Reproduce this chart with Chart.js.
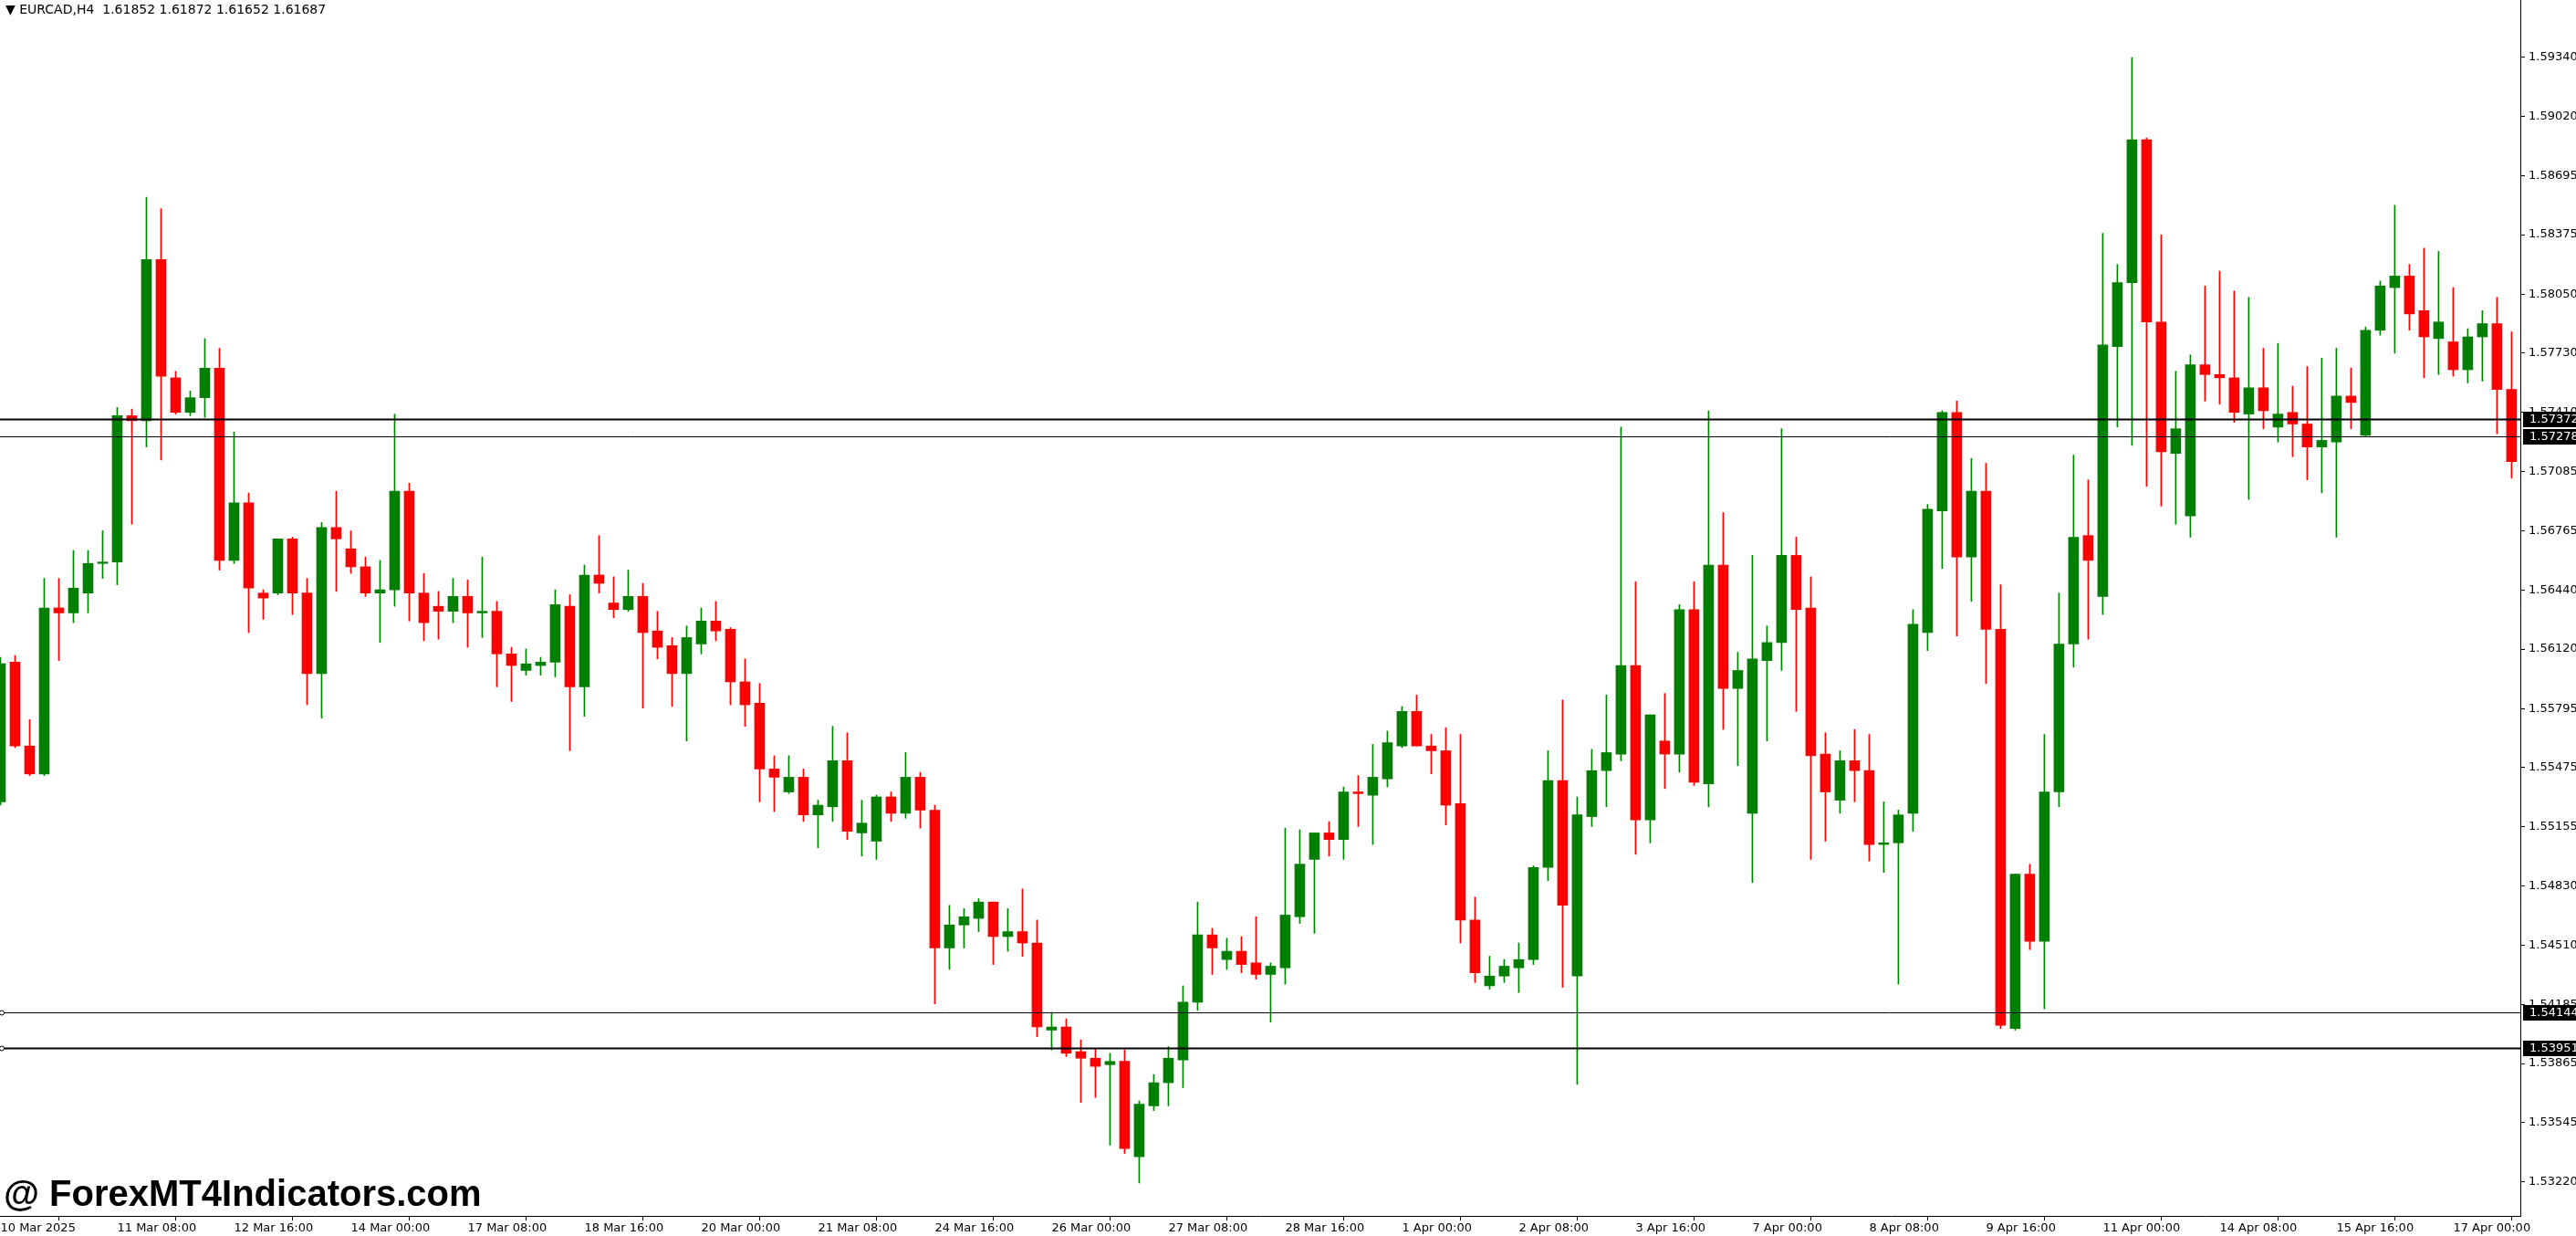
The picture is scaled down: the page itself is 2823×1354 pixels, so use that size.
<!DOCTYPE html>
<html><head><meta charset="utf-8">
<script src="https://cdn.jsdelivr.net/npm/chart.js@4/dist/chart.umd.min.js"></script>
<style>html,body{margin:0;padding:0;background:#fff;overflow:hidden}canvas{display:block}</style>
</head><body>
<canvas id="c" width="2823" height="1354"></canvas>
<script>
const opens=[1.55289,1.56049,1.55593,1.55441,1.56344,1.56317,1.56425,1.56586,1.56594,1.57390,
1.57363,1.58240,1.57596,1.57408,1.57488,1.57649,1.56603,1.56916,1.56425,1.56425,
1.56720,1.56425,1.55987,1.56782,1.56666,1.56568,1.56425,1.56443,1.56979,1.56425,
1.56353,1.56326,1.56407,1.56317,1.56326,1.56094,1.56004,1.56031,1.56049,1.56353,
1.55915,1.56523,1.56371,1.56335,1.56407,1.56219,1.56139,1.55987,1.56148,1.56273,
1.56228,1.55942,1.55826,1.55468,1.55343,1.55423,1.55218,1.55262,1.55513,1.55120,
1.55075,1.55316,1.55227,1.55423,1.55244,1.54494,1.54619,1.54655,1.54744,1.54556,
1.54583,1.54521,1.54047,1.54064,1.53930,1.53894,1.53859,1.53877,1.53358,1.53635,
1.53761,1.53885,1.54199,1.54565,1.54431,1.54476,1.54413,1.54350,1.54386,1.54664,
1.54976,1.55120,1.55084,1.55343,1.55325,1.55414,1.55593,1.55781,1.55593,1.55567,
1.55280,1.54646,1.54288,1.54341,1.54386,1.54431,1.54932,1.55405,1.54341,1.55209,
1.55459,1.55549,1.56031,1.55191,1.55620,1.55549,1.56335,1.55387,1.56577,1.55906,
1.55227,1.56058,1.56156,1.56630,1.56344,1.55549,1.55298,1.55513,1.55459,1.55057,
1.55066,1.55227,1.56210,1.56872,1.57408,1.56621,1.56979,1.56228,1.54056,1.54896,
1.54530,1.55343,1.56148,1.56738,1.56407,1.57766,1.58114,1.58892,1.57900,1.57185,
1.56845,1.57667,1.57614,1.57596,1.57399,1.57542,1.57328,1.57408,1.57345,1.57220,
1.57247,1.57497,1.57283,1.57855,1.58087,1.58150,1.57962,1.57810,1.57792,1.57640,
1.57819,1.57891,1.57533];
const highs=[1.56076,1.56085,1.55736,1.56505,1.56505,1.56657,1.56657,1.56764,1.57435,1.57426,
1.58579,1.58517,1.57632,1.57524,1.57810,1.57757,1.57301,1.56970,1.56443,1.56720,
1.56729,1.56505,1.56809,1.56979,1.56764,1.56621,1.56603,1.57399,1.57023,1.56532,
1.56434,1.56505,1.56496,1.56621,1.56380,1.56130,1.56121,1.56076,1.56443,1.56416,
1.56577,1.56738,1.56514,1.56550,1.56478,1.56326,1.56183,1.56246,1.56344,1.56380,
1.56237,1.56067,1.55933,1.55540,1.55540,1.55468,1.55298,1.55700,1.55665,1.55298,
1.55325,1.55343,1.55557,1.55450,1.55271,1.54726,1.54708,1.54762,1.54744,1.54708,
1.54815,1.54646,1.54145,1.54109,1.53993,1.53948,1.53921,1.53939,1.53662,1.53805,
1.53957,1.54288,1.54744,1.54601,1.54547,1.54556,1.54664,1.54413,1.55146,1.55137,
1.55120,1.55182,1.55370,1.55432,1.55602,1.55674,1.55808,1.55870,1.55656,1.55692,
1.55656,1.54771,1.54449,1.54431,1.54521,1.54941,1.55567,1.55843,1.55316,1.55575,
1.55870,1.57328,1.56487,1.55763,1.55879,1.56362,1.56487,1.57417,1.56863,1.56103,
1.56630,1.56246,1.57319,1.56729,1.56514,1.55665,1.55567,1.55683,1.55656,1.55289,
1.55244,1.56335,1.56907,1.57417,1.57470,1.57158,1.57131,1.56470,1.54896,1.54950,
1.55656,1.56425,1.57176,1.57041,1.58382,1.58213,1.59339,1.58901,1.58374,1.57632,
1.57721,1.58096,1.58177,1.58069,1.58034,1.57757,1.57784,1.57551,1.57658,1.57703,
1.57757,1.57649,1.57873,1.58123,1.58535,1.58213,1.58302,1.58284,1.58087,1.57864,
1.57962,1.58034,1.57846];
const lows=[1.55271,1.55584,1.55432,1.55432,1.56058,1.56264,1.56317,1.56505,1.56470,1.56800,
1.57220,1.57149,1.57399,1.57390,1.57381,1.56550,1.56586,1.56210,1.56282,1.56416,
1.56308,1.55817,1.55745,1.56434,1.56532,1.56407,1.56156,1.56353,1.56273,1.56165,
1.56174,1.56264,1.56130,1.56183,1.55915,1.55835,1.55978,1.55978,1.55969,1.55567,
1.55754,1.56425,1.56291,1.56326,1.55799,1.56067,1.55808,1.55620,1.56094,1.56165,
1.55817,1.55700,1.55289,1.55236,1.55334,1.55182,1.55039,1.55182,1.55084,1.54994,
1.54976,1.55182,1.55200,1.55146,1.54190,1.54377,1.54494,1.54583,1.54404,1.54476,
1.54449,1.54011,1.53939,1.53903,1.53653,1.53680,1.53421,1.53376,1.53215,1.53609,
1.53635,1.53734,1.54154,1.54350,1.54377,1.54359,1.54324,1.54091,1.54297,1.54628,
1.54574,1.54994,1.54976,1.55155,1.55057,1.55370,1.55584,1.55593,1.55441,1.55164,
1.54521,1.54306,1.54270,1.54306,1.54252,1.54404,1.54860,1.54279,1.53752,1.55155,
1.55262,1.55513,1.55003,1.55066,1.55361,1.55450,1.55378,1.55262,1.55683,1.55486,
1.54851,1.55620,1.56004,1.55781,1.54976,1.55075,1.55227,1.55289,1.54967,1.54905,
1.54297,1.55129,1.56112,1.56559,1.56192,1.56380,1.55933,1.54056,1.54047,1.54485,
1.54163,1.55262,1.56022,1.56174,1.56308,1.57328,1.57229,1.57006,1.56898,1.56800,
1.56729,1.57470,1.57453,1.57354,1.56934,1.57319,1.57247,1.57167,1.57041,1.56970,
1.56729,1.57319,1.57274,1.57828,1.57730,1.57855,1.57596,1.57614,1.57605,1.57569,
1.57578,1.57292,1.57050];
const closes=[1.56040,1.55593,1.55441,1.56344,1.56317,1.56452,1.56586,1.56594,1.57390,1.57363,
1.58240,1.57605,1.57408,1.57488,1.57649,1.56603,1.56916,1.56452,1.56398,1.56720,
1.56425,1.55987,1.56782,1.56720,1.56568,1.56425,1.56443,1.56979,1.56425,1.56264,
1.56326,1.56407,1.56317,1.56326,1.56094,1.56031,1.56040,1.56049,1.56362,1.55915,
1.56523,1.56478,1.56335,1.56407,1.56210,1.56130,1.55987,1.56183,1.56273,1.56219,
1.55942,1.55817,1.55468,1.55423,1.55423,1.55218,1.55271,1.55513,1.55129,1.55173,
1.55316,1.55227,1.55423,1.55244,1.54494,1.54619,1.54664,1.54744,1.54556,1.54583,
1.54521,1.54064,1.54064,1.53921,1.53894,1.53850,1.53877,1.53403,1.53644,1.53761,
1.53894,1.54199,1.54565,1.54494,1.54476,1.54404,1.54350,1.54395,1.54673,1.54950,
1.55120,1.55084,1.55343,1.55334,1.55423,1.55611,1.55781,1.55593,1.55567,1.55271,
1.54646,1.54359,1.54341,1.54395,1.54431,1.54932,1.55405,1.54726,1.55218,1.55459,
1.55557,1.56031,1.55191,1.55763,1.55549,1.56335,1.55396,1.56577,1.55906,1.56004,
1.56067,1.56156,1.56630,1.56335,1.55540,1.55343,1.55513,1.55459,1.55057,1.55066,
1.55218,1.56255,1.56881,1.57408,1.56621,1.56979,1.56228,1.54073,1.54896,1.54530,
1.55343,1.56148,1.56729,1.56603,1.57775,1.58114,1.58892,1.57900,1.57194,1.57319,
1.57667,1.57614,1.57596,1.57408,1.57542,1.57417,1.57399,1.57345,1.57220,1.57256,
1.57497,1.57462,1.57855,1.58096,1.58150,1.57944,1.57819,1.57900,1.57640,1.57819,
1.57891,1.57533,1.57140];
const timeLabels=["10 Mar 2025","11 Mar 08:00","12 Mar 16:00","14 Mar 00:00","17 Mar 08:00","18 Mar 16:00","20 Mar 00:00","21 Mar 08:00","24 Mar 16:00","26 Mar 00:00","27 Mar 08:00","28 Mar 16:00","1 Apr 00:00","2 Apr 08:00","3 Apr 16:00","7 Apr 00:00","8 Apr 08:00","9 Apr 16:00","11 Apr 00:00","14 Apr 08:00","15 Apr 16:00","17 Apr 00:00"];
const labelStep=8;
const priceTicks=[1.59340,1.59020,1.58695,1.58375,1.58050,1.57730,1.57410,1.57085,1.56765,1.56440,1.56120,1.55795,1.55475,1.55155,1.54830,1.54510,1.54185,1.53865,1.53545,1.53220];
const hLines=[1.57372,1.57278,1.54144,1.53951];
const hLineWidths=[2,1,1,2];
const headerText="▼ EURCAD,H4  1.61852 1.61872 1.61652 1.61687";
const watermark="@ ForexMT4Indicators.com";

const UP='#008000', DN='#ff0000';
const n=opens.length;
const idx=[...Array(n).keys()];
const cols=idx.map(i=>closes[i]>=opens[i]?UP:DN);
const wickData=idx.map(i=>({x:i,y:[lows[i],highs[i]]}));
const bodyData=idx.map(i=>{let a=opens[i],b=closes[i];if(Math.abs(a-b)<0.00002){b=a+(b>=a?0.00002:-0.00002);}return {x:i,y:[a,b]};});

const overlay={id:'overlay',
 afterDatasetsDraw(ch){
  const c=ch.ctx, ys=ch.scales.y, ca=ch.chartArea;
  c.save();
  hLines.forEach((v,k)=>{
    const y=Math.round(ys.getPixelForValue(v))+0.5;
    c.strokeStyle='#000';c.lineWidth=hLineWidths[k];
    c.beginPath();c.moveTo(0,y);c.lineTo(ca.right,y);c.stroke();
    if(k>=2){c.lineWidth=1;c.fillStyle='#fff';c.beginPath();c.arc(2,y,2.5,0,Math.PI*2);c.fill();c.stroke();}
  });
  c.restore();
 },
 afterDraw(ch){
  const c=ch.ctx, ys=ch.scales.y, ca=ch.chartArea;
  c.save();
  hLines.forEach(v=>{
    const y=Math.round(ys.getPixelForValue(v));
    c.fillStyle='#000';c.fillRect(ca.right+3,y-8,2823-ca.right-3,17);
    c.fillStyle='#fff';c.font='13px "DejaVu Sans"';c.textBaseline='middle';c.textAlign='left';
    c.fillText(v.toFixed(5),ca.right+10,y+1);
  });
  c.fillStyle='#000';c.font='14px "DejaVu Sans"';c.textBaseline='middle';c.textAlign='left';
  c.fillText(headerText,6,11);
  c.font='bold 40px "Liberation Sans"';c.textBaseline='middle';
  c.fillText(watermark,4,1310);
  c.restore();
 }};

new Chart(document.getElementById('c'),{
 type:'bar',
 data:{datasets:[
  {data:wickData,backgroundColor:cols,barThickness:1,grouped:false,order:2,borderWidth:0},
  {data:bodyData,backgroundColor:cols,barThickness:11,grouped:false,order:1,borderWidth:0}
 ]},
 options:{responsive:false,animation:false,devicePixelRatio:1,
  layout:{padding:0},
  plugins:{legend:{display:false},tooltip:{enabled:false}},
  scales:{
   x:{type:'linear',min:-0.03,max:172.6,offset:false,
     afterFit(s){s.height=22;s.paddingLeft=0;s.paddingRight=0;},
     afterBuildTicks(s){s.ticks=timeLabels.map((t,k)=>({value:k*labelStep}));},
     ticks:{autoSkip:false,maxRotation:0,align:'start',padding:1,color:'#000',font:{family:'DejaVu Sans',size:13},
       callback:(v)=>timeLabels[Math.round(v/labelStep)]},
     grid:{drawOnChartArea:false,drawTicks:true,tickLength:5,color:'#000'},
     border:{color:'#000',width:1}},
   y:{position:'right',min:1.53036,max:1.59652,
     afterFit(s){s.width=61;s.paddingTop=0;s.paddingBottom=0;},
     afterBuildTicks(s){s.ticks=priceTicks.map(v=>({value:v}));},
     ticks:{padding:4,color:'#000',font:{family:'DejaVu Sans',size:13},callback:(v)=>Number(v).toFixed(5)},
     grid:{drawOnChartArea:false,drawTicks:true,tickLength:5,color:'#000'},
     border:{color:'#000',width:1}}
  }},
 plugins:[overlay]
});
</script>
</body></html>
